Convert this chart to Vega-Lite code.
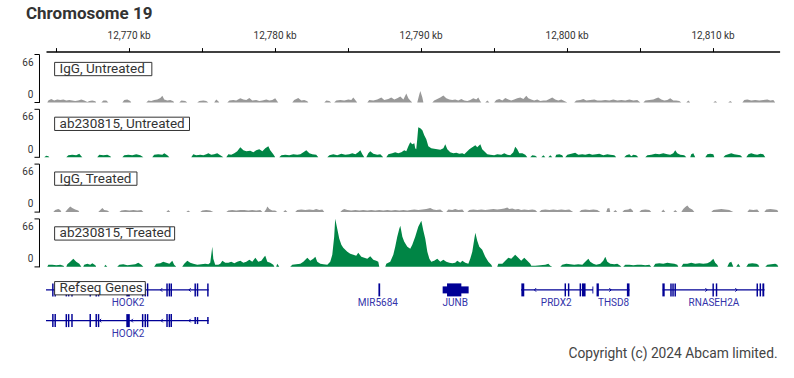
{
"$schema": "https://vega.github.io/schema/vega-lite/v6.json",
"autosize": {"type": "pad"},
"padding": {"left": 21, "top": 4, "right": 14.7, "bottom": 5},
"bounds": "flush",
"background": "white",
"title": {"text": "Chromosome 19", "anchor": "start", "frame": "group", "dx": -20, "offset": 8, "fontSize": 17, "fontWeight": "bold", "font": "Roboto", "color": "#333333"},
"config": {"view": {"stroke": null}, "font": "Roboto"},
"spacing": 5.8,
"datasets": {
"t1": [
{"x":12764.43,"v":0},{"x":12764.50,"v":2.7},{"x":12764.70,"v":4.8},{"x":12764.90,"v":2.7},{"x":12765.11,"v":4.1},{"x":12765.32,"v":3.4},{"x":12765.53,"v":4.1},{"x":12765.73,"v":2.7},{"x":12765.94,"v":3.4},{"x":12766.14,"v":2.7},{"x":12766.34,"v":2},{"x":12766.55,"v":2.7},{"x":12766.76,"v":4.1},{"x":12766.96,"v":2.7},{"x":12767.17,"v":0.7},{"x":12767.31,"v":2},{"x":12767.51,"v":2.7},{"x":12767.72,"v":1.4},{"x":12767.78,"v":0},
{"x":12768.13,"v":0},{"x":12768.27,"v":2.7},{"x":12768.47,"v":2.7},{"x":12768.61,"v":0},
{"x":12769.57,"v":0},{"x":12769.70,"v":3.4},{"x":12769.91,"v":4.1},{"x":12770.11,"v":2},{"x":12770.18,"v":0},
{"x":12771.21,"v":0},{"x":12771.35,"v":2.7},{"x":12771.55,"v":2},{"x":12771.75,"v":3.4},{"x":12771.96,"v":4.1},{"x":12772.17,"v":6.1},{"x":12772.31,"v":8.9},{"x":12772.44,"v":4.1},{"x":12772.65,"v":2.7},{"x":12772.85,"v":3.4},{"x":12773.06,"v":1.4},{"x":12773.12,"v":0},
{"x":12773.47,"v":0},{"x":12773.61,"v":2.7},{"x":12773.88,"v":2},{"x":12774.02,"v":0},
{"x":12774.70,"v":0},{"x":12774.84,"v":2},{"x":12775.12,"v":2.7},{"x":12775.32,"v":2},{"x":12775.46,"v":0},
{"x":12775.86,"v":0},{"x":12776.00,"v":4.1},{"x":12776.14,"v":1.4},{"x":12776.21,"v":0},
{"x":12776.76,"v":0},{"x":12776.90,"v":2.7},{"x":12777.17,"v":3.4},{"x":12777.37,"v":2.7},{"x":12777.65,"v":5.5},{"x":12777.86,"v":4.1},{"x":12778.06,"v":3.4},{"x":12778.27,"v":6.1},{"x":12778.47,"v":2.7},{"x":12778.74,"v":3.4},{"x":12778.95,"v":2},{"x":12779.16,"v":2.7},{"x":12779.43,"v":4.1},{"x":12779.64,"v":2.7},{"x":12779.84,"v":3.4},{"x":12780.04,"v":5.5},{"x":12780.18,"v":1.4},{"x":12780.25,"v":0},
{"x":12781.21,"v":0},{"x":12781.34,"v":3.4},{"x":12781.62,"v":6.1},{"x":12781.83,"v":2.7},{"x":12782.03,"v":3.4},{"x":12782.24,"v":1.4},{"x":12782.31,"v":0},
{"x":12783.40,"v":0},{"x":12783.54,"v":2.7},{"x":12783.75,"v":2},{"x":12783.88,"v":0},
{"x":12784.08,"v":0},{"x":12784.22,"v":2.7},{"x":12784.50,"v":3.4},{"x":12784.77,"v":2.7},{"x":12785.05,"v":4.1},{"x":12785.25,"v":3.4},{"x":12785.39,"v":6.8},{"x":12785.59,"v":1.4},{"x":12785.66,"v":0},
{"x":12786.35,"v":0},{"x":12786.48,"v":3.4},{"x":12786.76,"v":2.7},{"x":12787.03,"v":4.1},{"x":12787.31,"v":6.8},{"x":12787.51,"v":3.4},{"x":12787.79,"v":4.8},{"x":12787.99,"v":6.8},{"x":12788.20,"v":4.1},{"x":12788.40,"v":5.5},{"x":12788.61,"v":8.2},{"x":12788.82,"v":4.1},{"x":12789.02,"v":12.3},{"x":12789.16,"v":5.5},{"x":12789.29,"v":2.7},{"x":12789.43,"v":0},
{"x":12789.77,"v":0},{"x":12789.91,"v":10.9},{"x":12789.98,"v":15.7},{"x":12790.12,"v":6.8},{"x":12790.19,"v":0},
{"x":12790.80,"v":0},{"x":12790.93,"v":2.7},{"x":12791.14,"v":4.8},{"x":12791.35,"v":6.8},{"x":12791.56,"v":9.5},{"x":12791.76,"v":5.5},{"x":12791.97,"v":4.1},{"x":12792.17,"v":3.4},{"x":12792.37,"v":4.1},{"x":12792.58,"v":2.7},{"x":12792.79,"v":4.8},{"x":12792.99,"v":2.7},{"x":12793.20,"v":2},{"x":12793.40,"v":3.4},{"x":12793.61,"v":5.5},{"x":12793.81,"v":4.1},{"x":12793.95,"v":6.8},{"x":12794.09,"v":1.4},{"x":12794.16,"v":0},
{"x":12794.43,"v":0},{"x":12794.57,"v":2.7},{"x":12794.71,"v":0},
{"x":12795.04,"v":0},{"x":12795.18,"v":3.4},{"x":12795.39,"v":4.8},{"x":12795.60,"v":2.7},{"x":12795.80,"v":6.1},{"x":12796.01,"v":4.1},{"x":12796.21,"v":2.7},{"x":12796.41,"v":4.1},{"x":12796.62,"v":5.5},{"x":12796.83,"v":6.8},{"x":12797.04,"v":4.8},{"x":12797.24,"v":8.9},{"x":12797.38,"v":5.5},{"x":12797.58,"v":4.1},{"x":12797.78,"v":2.7},{"x":12797.99,"v":4.1},{"x":12798.20,"v":2},{"x":12798.41,"v":2.7},{"x":12798.61,"v":2.7},{"x":12798.82,"v":4.8},{"x":12799.02,"v":6.8},{"x":12799.22,"v":4.1},{"x":12799.43,"v":2.7},{"x":12799.64,"v":4.1},{"x":12799.84,"v":2},{"x":12800.05,"v":0},
{"x":12800.52,"v":0},{"x":12800.66,"v":2.7},{"x":12800.94,"v":3.4},{"x":12801.15,"v":4.8},{"x":12801.35,"v":2.7},{"x":12801.62,"v":3.4},{"x":12801.90,"v":4.1},{"x":12802.10,"v":2.7},{"x":12802.38,"v":2.7},{"x":12802.65,"v":3.4},{"x":12802.93,"v":2.7},{"x":12803.20,"v":4.1},{"x":12803.47,"v":2.7},{"x":12803.75,"v":3.4},{"x":12804.02,"v":2.7},{"x":12804.30,"v":4.1},{"x":12804.57,"v":2.7},{"x":12804.84,"v":3.4},{"x":12805.05,"v":0},
{"x":12805.26,"v":0},{"x":12805.39,"v":2.7},{"x":12805.67,"v":3.4},{"x":12805.94,"v":4.1},{"x":12806.14,"v":5.5},{"x":12806.28,"v":6.8},{"x":12806.49,"v":4.1},{"x":12806.69,"v":2.7},{"x":12806.90,"v":3.4},{"x":12807.10,"v":5.5},{"x":12807.31,"v":2.7},{"x":12807.51,"v":2.7},{"x":12807.72,"v":2},{"x":12807.86,"v":0},
{"x":12808.20,"v":0},{"x":12808.34,"v":2.7},{"x":12808.47,"v":0},
{"x":12810.05,"v":0},{"x":12810.18,"v":2},{"x":12810.32,"v":0},
{"x":12811.07,"v":0},{"x":12811.21,"v":2},{"x":12811.35,"v":0},
{"x":12812.04,"v":0},{"x":12812.17,"v":3.4},{"x":12812.38,"v":4.1},{"x":12812.65,"v":2.7},{"x":12812.92,"v":3.4},{"x":12813.20,"v":2.7},{"x":12813.47,"v":3.4},{"x":12813.75,"v":4.1},{"x":12813.95,"v":2.7},{"x":12814.16,"v":3.4},{"x":12814.29,"v":0}
],
"t2": [
{"x":12764.22,"v":0},{"x":12764.36,"v":2},{"x":12764.50,"v":1.4},{"x":12764.57,"v":0},
{"x":12765.73,"v":0},{"x":12765.87,"v":2.7},{"x":12766.14,"v":3.4},{"x":12766.41,"v":2.7},{"x":12766.62,"v":4.8},{"x":12766.76,"v":1.4},{"x":12766.83,"v":0},
{"x":12767.85,"v":0},{"x":12767.99,"v":3.4},{"x":12768.27,"v":2.7},{"x":12768.54,"v":3.4},{"x":12768.74,"v":1.4},{"x":12768.81,"v":0},
{"x":12769.57,"v":0},{"x":12769.70,"v":2.7},{"x":12769.98,"v":3.4},{"x":12770.25,"v":2.7},{"x":12770.52,"v":4.1},{"x":12770.80,"v":2.7},{"x":12771.01,"v":0},
{"x":12771.62,"v":0},{"x":12771.75,"v":3.4},{"x":12772.03,"v":4.1},{"x":12772.31,"v":3.4},{"x":12772.44,"v":5.5},{"x":12772.65,"v":2.7},{"x":12772.79,"v":0},
{"x":12774.29,"v":0},{"x":12774.43,"v":4.1},{"x":12774.63,"v":2.7},{"x":12774.91,"v":3.4},{"x":12775.12,"v":2.7},{"x":12775.32,"v":4.1},{"x":12775.46,"v":5.5},{"x":12775.66,"v":3.4},{"x":12775.86,"v":4.1},{"x":12776.07,"v":5.5},{"x":12776.28,"v":2.7},{"x":12776.49,"v":0},
{"x":12776.69,"v":0},{"x":12776.83,"v":4.1},{"x":12777.03,"v":3.4},{"x":12777.24,"v":5.5},{"x":12777.44,"v":8.2},{"x":12777.65,"v":13.6},{"x":12777.86,"v":9.5},{"x":12778.06,"v":8.2},{"x":12778.33,"v":8.9},{"x":12778.54,"v":6.8},{"x":12778.74,"v":9.5},{"x":12778.95,"v":10.9},{"x":12779.16,"v":8.2},{"x":12779.36,"v":12.3},{"x":12779.57,"v":15},{"x":12779.70,"v":9.5},{"x":12779.91,"v":4.1},{"x":12780.04,"v":0},
{"x":12780.32,"v":0},{"x":12780.46,"v":2.7},{"x":12780.73,"v":3.4},{"x":12781.00,"v":2.7},{"x":12781.28,"v":4.1},{"x":12781.55,"v":3.4},{"x":12781.76,"v":4.1},{"x":12781.97,"v":6.8},{"x":12782.17,"v":9.5},{"x":12782.38,"v":5.5},{"x":12782.58,"v":4.1},{"x":12782.85,"v":3.4},{"x":12782.99,"v":0},
{"x":12783.61,"v":0},{"x":12783.75,"v":2.7},{"x":12784.02,"v":4.1},{"x":12784.29,"v":2.7},{"x":12784.57,"v":4.8},{"x":12784.84,"v":3.4},{"x":12785.11,"v":4.1},{"x":12785.32,"v":5.5},{"x":12785.53,"v":4.1},{"x":12785.73,"v":6.8},{"x":12785.87,"v":9.5},{"x":12786.01,"v":4.1},{"x":12786.14,"v":0},
{"x":12786.28,"v":0},{"x":12786.42,"v":5.5},{"x":12786.55,"v":8.2},{"x":12786.76,"v":4.8},{"x":12787.03,"v":3.4},{"x":12787.24,"v":4.1},{"x":12787.44,"v":0},
{"x":12787.65,"v":0},{"x":12787.79,"v":4.1},{"x":12788.06,"v":5.5},{"x":12788.26,"v":6.8},{"x":12788.47,"v":5.5},{"x":12788.68,"v":6.8},{"x":12788.88,"v":9.5},{"x":12789.02,"v":8.2},{"x":12789.16,"v":15},{"x":12789.29,"v":20.5},{"x":12789.43,"v":17.7},{"x":12789.57,"v":19.1},{"x":12789.63,"v":12.3},{"x":12789.70,"v":10.9},{"x":12789.77,"v":24.6},{"x":12789.84,"v":40.9},{"x":12789.98,"v":39.6},{"x":12790.12,"v":36.8},{"x":12790.25,"v":30},{"x":12790.39,"v":24.6},{"x":12790.53,"v":15},{"x":12790.73,"v":12.3},{"x":12790.93,"v":11.6},{"x":12791.14,"v":10.9},{"x":12791.35,"v":10.2},{"x":12791.56,"v":12.3},{"x":12791.69,"v":17.7},{"x":12791.83,"v":10.9},{"x":12792.03,"v":6.8},{"x":12792.24,"v":5.5},{"x":12792.45,"v":6.1},{"x":12792.65,"v":4.8},{"x":12792.86,"v":5.5},{"x":12792.99,"v":4.1},{"x":12793.13,"v":6.8},{"x":12793.34,"v":10.9},{"x":12793.54,"v":13.6},{"x":12793.75,"v":16.4},{"x":12793.88,"v":13.6},{"x":12794.09,"v":17.7},{"x":12794.22,"v":10.9},{"x":12794.43,"v":6.8},{"x":12794.57,"v":4.1},{"x":12794.77,"v":3.4},{"x":12795.04,"v":2.7},{"x":12795.25,"v":4.1},{"x":12795.53,"v":3.4},{"x":12795.73,"v":5.5},{"x":12795.94,"v":3.4},{"x":12796.14,"v":2.7},{"x":12796.35,"v":6.8},{"x":12796.48,"v":14.3},{"x":12796.62,"v":10.9},{"x":12796.76,"v":5.5},{"x":12796.97,"v":5.5},{"x":12797.17,"v":3.4},{"x":12797.31,"v":0},
{"x":12797.51,"v":0},{"x":12797.65,"v":2.7},{"x":12797.85,"v":2},{"x":12797.99,"v":0},
{"x":12798.27,"v":0},{"x":12798.41,"v":2.7},{"x":12798.54,"v":0},
{"x":12798.75,"v":0},{"x":12798.88,"v":2.7},{"x":12799.02,"v":0},
{"x":12799.22,"v":0},{"x":12799.29,"v":3.4},{"x":12799.50,"v":4.1},{"x":12799.70,"v":2.7},{"x":12799.77,"v":0},
{"x":12799.91,"v":0},{"x":12800.05,"v":3.4},{"x":12800.32,"v":4.8},{"x":12800.59,"v":6.1},{"x":12800.80,"v":3.4},{"x":12801.08,"v":4.1},{"x":12801.28,"v":3.4},{"x":12801.55,"v":4.8},{"x":12801.76,"v":3.4},{"x":12802.03,"v":4.1},{"x":12802.24,"v":4.8},{"x":12802.51,"v":2.7},{"x":12802.79,"v":4.1},{"x":12802.99,"v":3.4},{"x":12803.27,"v":2.7},{"x":12803.40,"v":0},
{"x":12803.95,"v":0},{"x":12804.09,"v":2.7},{"x":12804.30,"v":4.1},{"x":12804.43,"v":1.4},{"x":12804.57,"v":3.4},{"x":12804.77,"v":2.7},{"x":12804.91,"v":0},
{"x":12805.39,"v":0},{"x":12805.53,"v":2.7},{"x":12805.80,"v":3.4},{"x":12806.08,"v":4.8},{"x":12806.35,"v":4.1},{"x":12806.62,"v":5.5},{"x":12806.90,"v":4.1},{"x":12807.10,"v":3.4},{"x":12807.31,"v":5.5},{"x":12807.44,"v":9.5},{"x":12807.58,"v":5.5},{"x":12807.79,"v":3.4},{"x":12808.06,"v":2.7},{"x":12808.20,"v":0},
{"x":12808.47,"v":0},{"x":12808.54,"v":4.1},{"x":12808.68,"v":5.5},{"x":12808.81,"v":0},
{"x":12809.50,"v":0},{"x":12809.64,"v":4.1},{"x":12809.84,"v":4.8},{"x":12810.05,"v":4.1},{"x":12810.12,"v":0},
{"x":12810.74,"v":0},{"x":12810.87,"v":2.7},{"x":12811.07,"v":4.1},{"x":12811.28,"v":5.5},{"x":12811.48,"v":4.1},{"x":12811.69,"v":3.4},{"x":12811.90,"v":2.7},{"x":12812.04,"v":0},
{"x":12812.31,"v":0},{"x":12812.45,"v":4.1},{"x":12812.65,"v":5.5},{"x":12812.86,"v":4.1},{"x":12813.06,"v":3.4},{"x":12813.27,"v":4.8},{"x":12813.47,"v":4.1},{"x":12813.61,"v":0}
],
"t3": [
{"x":12764.84,"v":0},{"x":12764.97,"v":2.7},{"x":12765.18,"v":4.1},{"x":12765.32,"v":2.7},{"x":12765.39,"v":0},
{"x":12765.66,"v":0},{"x":12765.80,"v":3.4},{"x":12766.00,"v":7.5},{"x":12766.14,"v":5.5},{"x":12766.34,"v":3.4},{"x":12766.55,"v":2},{"x":12766.62,"v":0},
{"x":12767.92,"v":0},{"x":12768.06,"v":2.7},{"x":12768.20,"v":5.5},{"x":12768.33,"v":2.7},{"x":12768.54,"v":2},{"x":12768.68,"v":0},
{"x":12769.36,"v":0},{"x":12769.50,"v":2},{"x":12769.77,"v":2.7},{"x":12770.05,"v":2},{"x":12770.32,"v":2.7},{"x":12770.59,"v":2},{"x":12770.87,"v":2.7},{"x":12771.01,"v":0},
{"x":12772.58,"v":0},{"x":12772.72,"v":2.7},{"x":12772.85,"v":0},
{"x":12773.95,"v":0},{"x":12774.08,"v":2},{"x":12774.22,"v":0},
{"x":12774.91,"v":0},{"x":12775.04,"v":2},{"x":12775.32,"v":2.7},{"x":12775.59,"v":2},{"x":12775.80,"v":0},
{"x":12776.69,"v":0},{"x":12776.83,"v":2},{"x":12777.10,"v":2.7},{"x":12777.37,"v":2},{"x":12777.65,"v":2.7},{"x":12777.92,"v":2.7},{"x":12778.20,"v":2},{"x":12778.47,"v":2.7},{"x":12778.74,"v":2},{"x":12779.02,"v":2.7},{"x":12779.16,"v":0},
{"x":12779.29,"v":0},{"x":12779.43,"v":4.1},{"x":12779.50,"v":7.5},{"x":12779.64,"v":4.1},{"x":12779.84,"v":2},{"x":12780.04,"v":2},{"x":12780.18,"v":0},
{"x":12780.59,"v":0},{"x":12780.73,"v":2.7},{"x":12780.87,"v":0},
{"x":12781.41,"v":0},{"x":12781.55,"v":2.7},{"x":12781.83,"v":3.4},{"x":12782.10,"v":2.7},{"x":12782.38,"v":3.4},{"x":12782.65,"v":2.7},{"x":12782.85,"v":4.1},{"x":12783.06,"v":2.7},{"x":12783.27,"v":3.4},{"x":12783.40,"v":0},
{"x":12784.50,"v":0},{"x":12784.64,"v":2.7},{"x":12784.77,"v":4.1},{"x":12784.98,"v":2.7},{"x":12785.25,"v":2},{"x":12785.53,"v":2.7},{"x":12785.80,"v":2},{"x":12786.07,"v":2.7},{"x":12786.35,"v":2},{"x":12786.62,"v":2.7},{"x":12786.89,"v":2},{"x":12787.17,"v":2.7},{"x":12787.44,"v":2},{"x":12787.72,"v":2.7},{"x":12787.99,"v":2},{"x":12788.26,"v":2.7},{"x":12788.54,"v":2},{"x":12788.82,"v":2.7},{"x":12789.09,"v":2},{"x":12789.29,"v":2.7},{"x":12789.57,"v":3.4},{"x":12789.84,"v":2.7},{"x":12790.12,"v":3.4},{"x":12790.39,"v":4.1},{"x":12790.66,"v":5.5},{"x":12790.87,"v":3.4},{"x":12791.07,"v":2.7},{"x":12791.35,"v":3.4},{"x":12791.56,"v":0},
{"x":12791.76,"v":0},{"x":12791.90,"v":3.4},{"x":12792.17,"v":2.7},{"x":12792.37,"v":4.1},{"x":12792.58,"v":2.7},{"x":12792.86,"v":3.4},{"x":12792.99,"v":0},
{"x":12793.20,"v":0},{"x":12793.34,"v":2.7},{"x":12793.61,"v":3.4},{"x":12793.88,"v":2.7},{"x":12794.16,"v":3.4},{"x":12794.43,"v":2.7},{"x":12794.71,"v":3.4},{"x":12794.98,"v":4.1},{"x":12795.25,"v":3.4},{"x":12795.53,"v":4.1},{"x":12795.73,"v":4.8},{"x":12795.94,"v":6.1},{"x":12796.07,"v":4.1},{"x":12796.28,"v":4.8},{"x":12796.48,"v":3.4},{"x":12796.69,"v":4.1},{"x":12796.89,"v":2.7},{"x":12797.10,"v":3.4},{"x":12797.38,"v":2.7},{"x":12797.65,"v":3.4},{"x":12797.85,"v":2.7},{"x":12797.99,"v":0},
{"x":12798.13,"v":0},{"x":12798.27,"v":2.7},{"x":12798.54,"v":3.4},{"x":12798.82,"v":2.7},{"x":12799.09,"v":3.4},{"x":12799.36,"v":2.7},{"x":12799.64,"v":3.4},{"x":12799.91,"v":2.7},{"x":12800.18,"v":3.4},{"x":12800.45,"v":0},
{"x":12800.87,"v":0},{"x":12801.01,"v":2.7},{"x":12801.28,"v":3.4},{"x":12801.55,"v":2.7},{"x":12801.83,"v":3.4},{"x":12802.10,"v":2.7},{"x":12802.31,"v":0},
{"x":12802.72,"v":0},{"x":12802.79,"v":4.8},{"x":12802.93,"v":5.5},{"x":12802.99,"v":0},
{"x":12803.20,"v":0},{"x":12803.34,"v":2.7},{"x":12803.47,"v":0},
{"x":12803.82,"v":0},{"x":12803.95,"v":2.7},{"x":12804.23,"v":3.4},{"x":12804.36,"v":4.8},{"x":12804.50,"v":2.7},{"x":12804.57,"v":0},
{"x":12804.98,"v":0},{"x":12805.12,"v":2.7},{"x":12805.39,"v":3.4},{"x":12805.67,"v":2.7},{"x":12805.80,"v":0},
{"x":12806.49,"v":0},{"x":12806.62,"v":3.4},{"x":12806.76,"v":0},
{"x":12807.31,"v":0},{"x":12807.44,"v":2.7},{"x":12807.58,"v":0},
{"x":12807.86,"v":0},{"x":12807.99,"v":4.1},{"x":12808.13,"v":6.8},{"x":12808.27,"v":8.9},{"x":12808.41,"v":5.5},{"x":12808.61,"v":3.4},{"x":12808.75,"v":0},
{"x":12809.91,"v":0},{"x":12810.05,"v":2.7},{"x":12810.32,"v":3.4},{"x":12810.60,"v":4.1},{"x":12810.87,"v":3.4},{"x":12811.14,"v":2.7},{"x":12811.42,"v":0},
{"x":12812.38,"v":0},{"x":12812.51,"v":3.4},{"x":12812.79,"v":2.7},{"x":12813.06,"v":3.4},{"x":12813.20,"v":0},
{"x":12813.54,"v":0},{"x":12813.68,"v":3.4},{"x":12813.95,"v":4.1},{"x":12814.23,"v":3.4},{"x":12814.43,"v":2.7},{"x":12814.50,"v":0}
],
"t4": [
{"x":12764.43,"v":0},{"x":12764.50,"v":2.7},{"x":12764.77,"v":2.7},{"x":12765.05,"v":2},{"x":12765.32,"v":2.7},{"x":12765.53,"v":1.4},{"x":12765.59,"v":0},
{"x":12765.73,"v":0},{"x":12765.80,"v":3.4},{"x":12766.00,"v":6.8},{"x":12766.21,"v":10.9},{"x":12766.41,"v":6.8},{"x":12766.62,"v":4.1},{"x":12766.76,"v":0},
{"x":12766.89,"v":0},{"x":12766.96,"v":2.7},{"x":12767.17,"v":4.1},{"x":12767.37,"v":2.7},{"x":12767.51,"v":4.8},{"x":12767.72,"v":2},{"x":12767.78,"v":0},
{"x":12768.33,"v":0},{"x":12768.40,"v":2.7},{"x":12768.54,"v":0},
{"x":12769.22,"v":0},{"x":12769.36,"v":2.7},{"x":12769.63,"v":3.4},{"x":12769.91,"v":2},{"x":12770.18,"v":2.7},{"x":12770.45,"v":3.4},{"x":12770.66,"v":5.5},{"x":12770.87,"v":2.7},{"x":12771.01,"v":0},
{"x":12771.75,"v":0},{"x":12771.89,"v":4.1},{"x":12772.17,"v":4.8},{"x":12772.37,"v":6.8},{"x":12772.58,"v":5.5},{"x":12772.79,"v":4.1},{"x":12772.99,"v":8.2},{"x":12773.12,"v":2.7},{"x":12773.26,"v":0},
{"x":12773.67,"v":0},{"x":12773.81,"v":4.1},{"x":12774.02,"v":8.2},{"x":12774.22,"v":5.5},{"x":12774.43,"v":4.1},{"x":12774.70,"v":2.7},{"x":12774.98,"v":3.4},{"x":12775.25,"v":4.1},{"x":12775.46,"v":3.4},{"x":12775.59,"v":5.5},{"x":12775.73,"v":27.3},{"x":12775.80,"v":10.9},{"x":12775.93,"v":2.7},{"x":12776.14,"v":2.7},{"x":12776.28,"v":4.1},{"x":12776.42,"v":8.2},{"x":12776.62,"v":5.5},{"x":12776.83,"v":5.5},{"x":12777.03,"v":6.8},{"x":12777.24,"v":4.8},{"x":12777.44,"v":6.8},{"x":12777.65,"v":8.2},{"x":12777.86,"v":5.5},{"x":12778.06,"v":6.8},{"x":12778.27,"v":9.5},{"x":12778.47,"v":6.8},{"x":12778.68,"v":12.3},{"x":12778.88,"v":6.8},{"x":12779.09,"v":8.2},{"x":12779.29,"v":13.6},{"x":12779.36,"v":15},{"x":12779.50,"v":6.8},{"x":12779.70,"v":5.5},{"x":12779.91,"v":2.7},{"x":12779.98,"v":0},
{"x":12780.11,"v":0},{"x":12780.18,"v":4.1},{"x":12780.32,"v":0},
{"x":12781.07,"v":0},{"x":12781.21,"v":2.7},{"x":12781.48,"v":3.4},{"x":12781.76,"v":4.1},{"x":12781.97,"v":6.8},{"x":12782.24,"v":12.3},{"x":12782.44,"v":8.2},{"x":12782.65,"v":10.9},{"x":12782.79,"v":13.6},{"x":12782.92,"v":6.8},{"x":12783.13,"v":4.1},{"x":12783.34,"v":3.4},{"x":12783.61,"v":2.7},{"x":12783.81,"v":6.8},{"x":12783.95,"v":16.4},{"x":12784.08,"v":40.9},{"x":12784.15,"v":65.5},{"x":12784.29,"v":51.8},{"x":12784.43,"v":38.2},{"x":12784.57,"v":30},{"x":12784.70,"v":25.9},{"x":12784.84,"v":23.2},{"x":12784.98,"v":20.5},{"x":12785.18,"v":17.7},{"x":12785.39,"v":16.4},{"x":12785.59,"v":15},{"x":12785.73,"v":19.1},{"x":12785.94,"v":13.6},{"x":12786.14,"v":12.3},{"x":12786.35,"v":10.9},{"x":12786.55,"v":14.3},{"x":12786.76,"v":9.5},{"x":12786.96,"v":8.2},{"x":12787.10,"v":6.8},{"x":12787.17,"v":0},
{"x":12787.58,"v":0},{"x":12787.65,"v":4.1},{"x":12787.92,"v":6.8},{"x":12788.13,"v":16.4},{"x":12788.26,"v":27.3},{"x":12788.40,"v":40.9},{"x":12788.54,"v":51.8},{"x":12788.61,"v":55.9},{"x":12788.75,"v":40.9},{"x":12788.88,"v":34.1},{"x":12789.09,"v":27.3},{"x":12789.29,"v":24.6},{"x":12789.43,"v":30},{"x":12789.63,"v":40.9},{"x":12789.84,"v":54.6},{"x":12789.98,"v":60},{"x":12790.05,"v":62.7},{"x":12790.19,"v":49.1},{"x":12790.32,"v":38.2},{"x":12790.46,"v":20.5},{"x":12790.60,"v":10.9},{"x":12790.73,"v":6.8},{"x":12790.93,"v":8.2},{"x":12791.14,"v":10.9},{"x":12791.35,"v":6.8},{"x":12791.56,"v":9.5},{"x":12791.76,"v":6.8},{"x":12791.97,"v":5.5},{"x":12792.17,"v":4.8},{"x":12792.37,"v":5.5},{"x":12792.51,"v":8.2},{"x":12792.72,"v":5.5},{"x":12792.86,"v":8.2},{"x":12793.06,"v":5.5},{"x":12793.27,"v":4.1},{"x":12793.40,"v":10.9},{"x":12793.54,"v":20.5},{"x":12793.68,"v":38.2},{"x":12793.75,"v":46.4},{"x":12793.88,"v":35.5},{"x":12794.02,"v":27.3},{"x":12794.22,"v":23.2},{"x":12794.43,"v":13.6},{"x":12794.64,"v":6.8},{"x":12794.84,"v":2.7},{"x":12794.91,"v":0},
{"x":12795.25,"v":0},{"x":12795.32,"v":4.1},{"x":12795.60,"v":4.1},{"x":12795.80,"v":8.2},{"x":12796.01,"v":12.3},{"x":12796.21,"v":10.9},{"x":12796.48,"v":16.4},{"x":12796.69,"v":12.3},{"x":12796.89,"v":8.2},{"x":12797.10,"v":12.3},{"x":12797.31,"v":8.2},{"x":12797.51,"v":4.1},{"x":12797.58,"v":1.4},{"x":12797.85,"v":1.4},{"x":12798.20,"v":2},{"x":12798.54,"v":2.7},{"x":12798.75,"v":4.1},{"x":12798.88,"v":1.4},{"x":12799.02,"v":0},
{"x":12799.57,"v":0},{"x":12799.70,"v":2.7},{"x":12799.98,"v":4.1},{"x":12800.25,"v":3.4},{"x":12800.52,"v":2.7},{"x":12800.80,"v":3.4},{"x":12801.08,"v":2.7},{"x":12801.21,"v":5.5},{"x":12801.35,"v":8.2},{"x":12801.49,"v":10.9},{"x":12801.62,"v":6.8},{"x":12801.83,"v":4.1},{"x":12802.03,"v":2.7},{"x":12802.31,"v":4.1},{"x":12802.51,"v":8.2},{"x":12802.65,"v":13.6},{"x":12802.79,"v":6.8},{"x":12802.99,"v":4.1},{"x":12803.27,"v":3.4},{"x":12803.47,"v":4.1},{"x":12803.68,"v":1.4},{"x":12803.75,"v":0},
{"x":12803.88,"v":0},{"x":12804.02,"v":2.7},{"x":12804.30,"v":2.7},{"x":12804.57,"v":2},{"x":12804.84,"v":2.7},{"x":12805.12,"v":2.7},{"x":12805.39,"v":2},{"x":12805.67,"v":2.7},{"x":12805.80,"v":0},
{"x":12805.94,"v":0},{"x":12806.08,"v":4.1},{"x":12806.35,"v":4.8},{"x":12806.62,"v":4.1},{"x":12806.90,"v":5.5},{"x":12807.10,"v":4.8},{"x":12807.38,"v":4.1},{"x":12807.58,"v":2.7},{"x":12807.65,"v":0},
{"x":12807.86,"v":0},{"x":12807.99,"v":4.1},{"x":12808.27,"v":4.1},{"x":12808.54,"v":5.5},{"x":12808.81,"v":4.1},{"x":12809.09,"v":4.8},{"x":12809.36,"v":4.1},{"x":12809.64,"v":4.8},{"x":12809.84,"v":6.8},{"x":12810.05,"v":10.9},{"x":12810.18,"v":5.5},{"x":12810.32,"v":2.7},{"x":12810.39,"v":0},
{"x":12811.01,"v":0},{"x":12811.14,"v":5.5},{"x":12811.28,"v":6.8},{"x":12811.42,"v":0},
{"x":12811.62,"v":0},{"x":12811.76,"v":4.1},{"x":12811.90,"v":0},
{"x":12812.31,"v":0},{"x":12812.45,"v":4.1},{"x":12812.72,"v":4.8},{"x":12813.00,"v":4.1},{"x":12813.13,"v":2.7},{"x":12813.20,"v":0},
{"x":12813.61,"v":0},{"x":12813.75,"v":2.7},{"x":12814.02,"v":3.4},{"x":12814.29,"v":4.1},{"x":12814.43,"v":2.7},{"x":12814.50,"v":0}
],
"introns": [
{"gene":"HOOK2","lane":1,"s":12764.34,"e":12775.48},
{"gene":"HOOK2","lane":2,"s":12764.34,"e":12775.48},
{"gene":"PRDX2","lane":1,"s":12796.88,"e":12801.81},
{"gene":"THSD8","lane":1,"s":12802.08,"e":12804.31},
{"gene":"RNASEH2A","lane":1,"s":12806.58,"e":12813.56}
],
"exons": [
{"lane":1,"s":12764.76,"e":12764.86,"k":"c"},{"lane":1,"s":12764.92,"e":12765.02,"k":"c"},{"lane":1,"s":12765.68,"e":12765.78,"k":"c"},{"lane":1,"s":12765.84,"e":12765.94,"k":"c"},{"lane":1,"s":12766.07,"e":12766.17,"k":"c"},{"lane":1,"s":12767.32,"e":12767.42,"k":"c"},{"lane":1,"s":12767.73,"e":12767.83,"k":"c"},{"lane":1,"s":12767.89,"e":12767.99,"k":"c"},{"lane":1,"s":12769.84,"e":12770.08,"k":"c"},{"lane":1,"s":12770.91,"e":12771.01,"k":"c"},{"lane":1,"s":12771.09,"e":12771.19,"k":"c"},{"lane":1,"s":12771.25,"e":12771.35,"k":"c"},{"lane":1,"s":12772.58,"e":12772.68,"k":"c"},{"lane":1,"s":12772.74,"e":12772.84,"k":"c"},{"lane":1,"s":12772.87,"e":12772.97,"k":"c"},{"lane":1,"s":12774.51,"e":12774.61,"k":"c"},{"lane":1,"s":12774.67,"e":12774.77,"k":"c"},{"lane":1,"s":12775.38,"e":12775.48,"k":"c"},
{"lane":2,"s":12764.76,"e":12764.86,"k":"c"},{"lane":2,"s":12764.92,"e":12765.02,"k":"c"},{"lane":2,"s":12765.68,"e":12765.78,"k":"c"},{"lane":2,"s":12765.84,"e":12765.94,"k":"c"},{"lane":2,"s":12766.07,"e":12766.17,"k":"c"},{"lane":2,"s":12767.32,"e":12767.42,"k":"c"},{"lane":2,"s":12767.73,"e":12767.83,"k":"c"},{"lane":2,"s":12767.89,"e":12767.99,"k":"c"},{"lane":2,"s":12769.84,"e":12770.08,"k":"c"},{"lane":2,"s":12770.91,"e":12771.01,"k":"c"},{"lane":2,"s":12771.09,"e":12771.19,"k":"c"},{"lane":2,"s":12771.25,"e":12771.35,"k":"c"},{"lane":2,"s":12772.58,"e":12772.68,"k":"c"},{"lane":2,"s":12772.74,"e":12772.84,"k":"c"},{"lane":2,"s":12772.87,"e":12772.97,"k":"c"},{"lane":2,"s":12774.51,"e":12774.61,"k":"u"},{"lane":2,"s":12774.67,"e":12774.77,"k":"u"},{"lane":2,"s":12775.38,"e":12775.48,"k":"u"},
{"lane":1,"s":12787.11,"e":12787.23,"k":"c"},
{"lane":1,"s":12791.51,"e":12793.29,"k":"u"},{"lane":1,"s":12791.81,"e":12792.79,"k":"c"},
{"lane":1,"s":12796.90,"e":12797.10,"k":"c"},{"lane":1,"s":12799.86,"e":12799.96,"k":"c"},{"lane":1,"s":12800.09,"e":12800.19,"k":"c"},{"lane":1,"s":12800.89,"e":12800.99,"k":"c"},{"lane":1,"s":12801.05,"e":12801.30,"k":"c"},{"lane":1,"s":12801.77,"e":12801.83,"k":"u"},
{"lane":1,"s":12802.05,"e":12802.21,"k":"c"},{"lane":1,"s":12804.13,"e":12804.31,"k":"c"},
{"lane":1,"s":12806.56,"e":12806.72,"k":"c"},{"lane":1,"s":12807.10,"e":12807.20,"k":"c"},{"lane":1,"s":12807.24,"e":12807.34,"k":"c"},{"lane":1,"s":12807.39,"e":12807.49,"k":"c"},{"lane":1,"s":12809.99,"e":12810.09,"k":"c"},{"lane":1,"s":12810.22,"e":12810.32,"k":"c"},{"lane":1,"s":12813.01,"e":12813.11,"k":"c"},{"lane":1,"s":12813.22,"e":12813.32,"k":"c"},{"lane":1,"s":12813.41,"e":12813.54,"k":"c"}
],
"arrows": [
{"lane":1,"p":12772.24,"d":"-"},{"lane":1,"p":12774.19,"d":"-"},
{"lane":2,"p":12768.06,"d":"-"},{"lane":2,"p":12770.23,"d":"-"},{"lane":2,"p":12772.28,"d":"-"},{"lane":2,"p":12774.19,"d":"-"},
{"lane":1,"p":12797.85,"d":"-"},{"lane":1,"p":12802.99,"d":"+"},{"lane":1,"p":12809.57,"d":"+"},{"lane":1,"p":12811.62,"d":"+"}
],
"genes": [
{"name":"HOOK2","lane":1,"p":12769.96},{"name":"HOOK2","lane":2,"p":12769.96},{"name":"MIR5684","lane":1,"p":12787.07},{"name":"JUNB","lane":1,"p":12792.37},{"name":"PRDX2","lane":1,"p":12799.29},{"name":"THSD8","lane":1,"p":12803.22},{"name":"RNASEH2A","lane":1,"p":12810.09}
]
},
"vconcat": [
{
"width": 733.6, "height": 48.4,
"layer": [
{"data": {"name": "t1"}, "mark": {"type": "area", "color": "#999999", "interpolate": "linear"},
 "encoding": {
  "x": {"field": "x", "type": "quantitative", "scale": {"domain": [12764.34, 12814.59], "nice": false, "zero": false, "padding": 0},
        "axis": {"orient": "top", "offset": 2.4, "values": [12765,12770,12775,12780,12785,12790,12795,12800,12805,12810], "labelExpr": "datum.value % 10 === 0 ? format(datum.value, ',') + ' kb' : ''", "labelOverlap": false, "grid": false, "title": null, "domainColor": "#000000", "domainWidth": 1.5, "tickColor": "#000000", "tickSize": 4, "labelFontSize": 10, "labelColor": "#333333", "labelPadding": 7, "labelFont": "Roboto"}},
  "y": {"field": "v", "type": "quantitative", "scale": {"domain": [0, 66], "nice": false, "padding": 0},
        "axis": {"orient": "left", "offset": 7, "values": [0, 66], "title": null, "grid": false, "domainColor": "#000000", "tickColor": "#000000", "tickSize": 5, "labelFlush": true, "labelFlushOffset": -3, "labelPadding": 1, "labelFontSize": 10, "labelColor": "#333333"}}
 }},
{"data": {"values": [{"label": "IgG, Untreated"}]}, "mark": {"type": "bar", "height": 13.3, "fill": "white", "stroke": "#333333", "strokeWidth": 1},
 "encoding": {"x": {"datum": 12764.93, "type": "quantitative"}, "x2": {"datum": 12771.59}, "y": {"datum": 45.5, "type": "quantitative"}}},
{"data": {"values": [{"label": "IgG, Untreated"}]}, "mark": {"type": "text", "align": "left", "baseline": "middle", "fontSize": 13.5, "color": "#333333", "dx": 5},
 "encoding": {"x": {"datum": 12764.93, "type": "quantitative"}, "y": {"datum": 45.5, "type": "quantitative"}, "text": {"field": "label"}}}
]
},
{
"width": 733.6, "height": 48.4,
"layer": [
{"data": {"name": "t2"}, "mark": {"type": "area", "color": "#008545", "interpolate": "linear"},
 "encoding": {
  "x": {"field": "x", "type": "quantitative", "scale": {"domain": [12764.34, 12814.59], "nice": false, "zero": false, "padding": 0}, "axis": null},
  "y": {"field": "v", "type": "quantitative", "scale": {"domain": [0, 66], "nice": false, "padding": 0},
        "axis": {"orient": "left", "offset": 7, "values": [0, 66], "title": null, "grid": false, "domainColor": "#000000", "tickColor": "#000000", "tickSize": 5, "labelFlush": true, "labelFlushOffset": -3, "labelPadding": 1, "labelFontSize": 10, "labelColor": "#333333"}}
 }},
{"data": {"values": [{"label": "ab230815, Untreated"}]}, "mark": {"type": "bar", "height": 13.3, "fill": "white", "stroke": "#333333", "strokeWidth": 1},
 "encoding": {"x": {"datum": 12764.93, "type": "quantitative"}, "x2": {"datum": 12774.17}, "y": {"datum": 45.5, "type": "quantitative"}}},
{"data": {"values": [{"label": "ab230815, Untreated"}]}, "mark": {"type": "text", "align": "left", "baseline": "middle", "fontSize": 13.5, "color": "#333333", "dx": 5},
 "encoding": {"x": {"datum": 12764.93, "type": "quantitative"}, "y": {"datum": 45.5, "type": "quantitative"}, "text": {"field": "label"}}}
]
},
{
"width": 733.6, "height": 48.4,
"layer": [
{"data": {"name": "t3"}, "mark": {"type": "area", "color": "#999999", "interpolate": "linear"},
 "encoding": {
  "x": {"field": "x", "type": "quantitative", "scale": {"domain": [12764.34, 12814.59], "nice": false, "zero": false, "padding": 0}, "axis": null},
  "y": {"field": "v", "type": "quantitative", "scale": {"domain": [0, 66], "nice": false, "padding": 0},
        "axis": {"orient": "left", "offset": 7, "values": [0, 66], "title": null, "grid": false, "domainColor": "#000000", "tickColor": "#000000", "tickSize": 5, "labelFlush": true, "labelFlushOffset": -3, "labelPadding": 1, "labelFontSize": 10, "labelColor": "#333333"}}
 }},
{"data": {"values": [{"label": "IgG, Treated"}]}, "mark": {"type": "bar", "height": 13.3, "fill": "white", "stroke": "#333333", "strokeWidth": 1},
 "encoding": {"x": {"datum": 12764.93, "type": "quantitative"}, "x2": {"datum": 12770.57}, "y": {"datum": 45.5, "type": "quantitative"}}},
{"data": {"values": [{"label": "IgG, Treated"}]}, "mark": {"type": "text", "align": "left", "baseline": "middle", "fontSize": 13.5, "color": "#333333", "dx": 5},
 "encoding": {"x": {"datum": 12764.93, "type": "quantitative"}, "y": {"datum": 45.5, "type": "quantitative"}, "text": {"field": "label"}}}
]
},
{
"width": 733.6, "height": 48.4,
"layer": [
{"data": {"name": "t4"}, "mark": {"type": "area", "color": "#008545", "interpolate": "linear"},
 "encoding": {
  "x": {"field": "x", "type": "quantitative", "scale": {"domain": [12764.34, 12814.59], "nice": false, "zero": false, "padding": 0}, "axis": null},
  "y": {"field": "v", "type": "quantitative", "scale": {"domain": [0, 66], "nice": false, "padding": 0},
        "axis": {"orient": "left", "offset": 7, "values": [0, 66], "title": null, "grid": false, "domainColor": "#000000", "tickColor": "#000000", "tickSize": 5, "labelFlush": true, "labelFlushOffset": -3, "labelPadding": 1, "labelFontSize": 10, "labelColor": "#333333"}}
 }},
{"data": {"values": [{"label": "ab230815, Treated"}]}, "mark": {"type": "bar", "height": 13.3, "fill": "white", "stroke": "#333333", "strokeWidth": 1},
 "encoding": {"x": {"datum": 12764.93, "type": "quantitative"}, "x2": {"datum": 12773.15}, "y": {"datum": 45.5, "type": "quantitative"}}},
{"data": {"values": [{"label": "ab230815, Treated"}]}, "mark": {"type": "text", "align": "left", "baseline": "middle", "fontSize": 13.5, "color": "#333333", "dx": 5},
 "encoding": {"x": {"datum": 12764.93, "type": "quantitative"}, "y": {"datum": 45.5, "type": "quantitative"}, "text": {"field": "label"}}}
]
},
{
"width": 733.6, "height": 70,
"title": {"text": "Copyright (c) 2024 Abcam limited.", "orient": "bottom", "anchor": "end", "frame": "group", "fontSize": 13.8, "fontWeight": "normal", "color": "#444444", "offset": 4, "dx": -2},
"layer": [
{"data": {"name": "introns"}, "mark": {"type": "rule", "color": "#000096", "strokeWidth": 1.3},
 "encoding": {
  "x": {"field": "s", "type": "quantitative", "scale": {"domain": [12764.34, 12814.59], "nice": false, "zero": false, "padding": 0}, "axis": null},
  "x2": {"field": "e"},
  "y": {"field": "lane", "type": "quantitative", "scale": {"domain": [0.456, 2.736], "reverse": true, "nice": false, "zero": false, "padding": 0}, "axis": null}
 }},
{"data": {"name": "exons"}, "transform": [{"filter": "datum.k === 'c'"}], "mark": {"type": "bar", "height": 13, "color": "#000096"},
 "encoding": {"x": {"field": "s", "type": "quantitative"}, "x2": {"field": "e"}, "y": {"field": "lane", "type": "quantitative"}}},
{"data": {"name": "exons"}, "transform": [{"filter": "datum.k === 'u'"}], "mark": {"type": "bar", "height": 7, "color": "#000096"},
 "encoding": {"x": {"field": "s", "type": "quantitative"}, "x2": {"field": "e"}, "y": {"field": "lane", "type": "quantitative"}}},
{"data": {"name": "arrows"}, "mark": {"type": "point", "filled": false, "color": "#000096", "strokeWidth": 1, "size": 12, "opacity": 1},
 "encoding": {"x": {"field": "p", "type": "quantitative"}, "y": {"field": "lane", "type": "quantitative"},
  "shape": {"field": "d", "type": "nominal", "scale": {"domain": ["-", "+"], "range": ["M0.5,-1L-0.5,0L0.5,1", "M-0.5,-1L0.5,0L-0.5,1"]}, "legend": null}}},
{"data": {"values": [{"label": "Refseq Genes"}]}, "mark": {"type": "bar", "height": 13.3, "fill": "white", "stroke": "#333333", "strokeWidth": 1},
 "encoding": {"x": {"datum": 12764.93, "type": "quantitative"}, "x2": {"datum": 12771.14}, "y": {"datum": 0.945, "type": "quantitative"}}},
{"data": {"values": [{"label": "Refseq Genes"}]}, "mark": {"type": "text", "align": "left", "baseline": "middle", "fontSize": 13.5, "color": "#333333", "dx": 5},
 "encoding": {"x": {"datum": 12764.93, "type": "quantitative"}, "y": {"datum": 0.945, "type": "quantitative"}, "text": {"field": "label"}}},
{"data": {"name": "genes"}, "mark": {"type": "text", "align": "center", "baseline": "middle", "dy": 13, "fontSize": 10, "color": "#3333aa"},
 "encoding": {"x": {"field": "p", "type": "quantitative"}, "y": {"field": "lane", "type": "quantitative"}, "text": {"field": "name"}}}
]
}
]
}
